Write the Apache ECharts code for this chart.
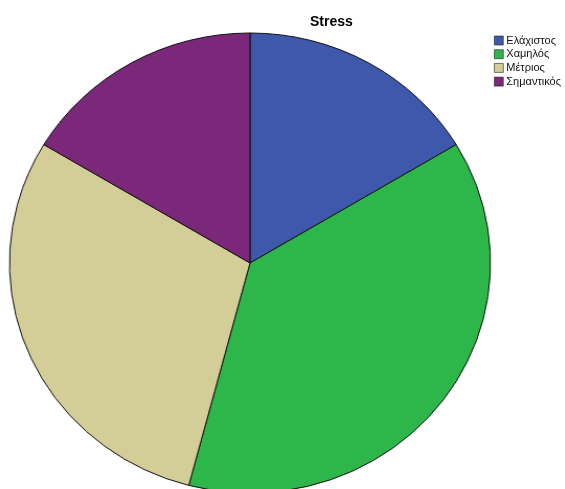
<!DOCTYPE html>
<html>
<head>
<meta charset="utf-8">
<script src="https://cdn.jsdelivr.net/npm/echarts@6/dist/echarts.min.js"></script>
<style>
html,body{margin:0;padding:0;background:#fff;overflow:hidden;}
#wrap{position:relative;width:565px;height:489px;}
#pie{position:absolute;left:0;top:0;width:565px;height:489px;transform-origin:250px 263px;transform:scaleX(1.0457);}
#over{position:absolute;left:0;top:0;width:565px;height:489px;}
</style>
</head>
<body>
<div id="wrap"><div id="pie"></div><div id="over"></div></div>
<script>
const titleText = "Stress";
const categories = ["Ελάχιστος", "Χαμηλός", "Μέτριος", "Σημαντικός"];
const values = [10, 23, 18, 10];
const colors = ["#3E58AC", "#2DB74A", "#D3CE97", "#7B287B"];

const pieChart = echarts.init(document.getElementById('pie'), null, {renderer: 'canvas'});
pieChart.setOption({
  animation: false,
  color: colors,
  series: [{
    type: 'pie',
    center: [250, 263],
    radius: [0, 230],
    startAngle: 90,
    clockwise: true,
    label: {show: false},
    labelLine: {show: false},
    emphasis: {disabled: true},
    itemStyle: {borderColor: '#111', borderWidth: 1},
    data: categories.map((c, i) => ({name: c, value: values[i]}))
  }]
});

const over = echarts.init(document.getElementById('over'), null, {renderer: 'canvas'});
over.setOption({
  animation: false,
  color: colors,
  title: {
    text: titleText,
    left: 305,
    top: 10,
    textStyle: {fontFamily: 'Liberation Sans, Arial, sans-serif', fontSize: 14, fontWeight: 'bold', color: '#000'}
  },
  legend: {
    orient: 'vertical',
    left: 494,
    top: 35,
    padding: 0,
    itemWidth: 9,
    itemHeight: 9,
    itemGap: 2.7,
    icon: 'rect',
    selectedMode: false,
    itemStyle: {borderColor: '#222', borderWidth: 0.6},
    textStyle: {fontFamily: 'Liberation Sans, Arial, sans-serif', fontSize: 11, lineHeight: 11, color: '#111', padding: [0, 0, 0, -2]},
    data: categories
  },
  series: [{
    type: 'pie',
    radius: 0,
    silent: true,
    label: {show: false},
    data: categories.map((c, i) => ({name: c, value: values[i]}))
  }]
});
</script>
</body>
</html>
